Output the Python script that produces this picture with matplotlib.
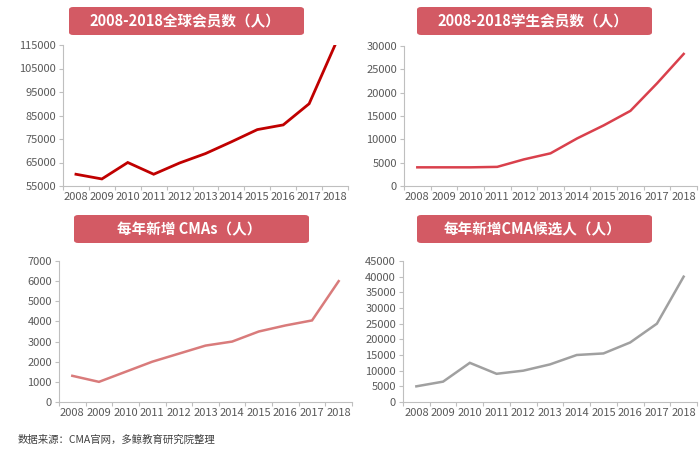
import matplotlib.pyplot as plt
from matplotlib.patches import FancyBboxPatch
from matplotlib.ticker import FixedLocator, NullFormatter
import numpy as np

plt.rcParams['font.family'] = ['Noto Sans CJK SC', 'DejaVu Sans']

years = [str(y) for y in range(2008, 2019)]

global_members = [60000, 58000, 65000, 60000, 64800, 68800, 73800, 79000, 81000, 90000, 115000]
student_members = [4000, 4000, 4000, 4100, 5700, 7000, 10200, 13000, 16100, 22000, 28300]
new_cmas = [1300, 1000, 1500, 2000, 2400, 2800, 3000, 3500, 3800, 4050, 6000]
new_candidates = [5000, 6500, 12500, 9000, 10000, 12000, 15000, 15500, 19000, 25000, 40000]

W, H = 700, 454
fig = plt.figure(figsize=(W / 100, H / 100), dpi=100)


def px_axes(x0, x1, y0, y1):
    return fig.add_axes([x0 / W, (H - y1) / H, (x1 - x0) / W, (y1 - y0) / H])


def title_box(x0, x1, y0, y1, text):
    box = FancyBboxPatch((x0 / W, (H - y1) / H), (x1 - x0) / W, (y1 - y0) / H,
                         boxstyle="round,pad=0,rounding_size=0.006",
                         transform=fig.transFigure, facecolor='#d35a64',
                         edgecolor='none')
    fig.patches.append(box)
    fig.text((x0 + x1) / 2 / W - 2 / W, (H - (y0 + y1) / 2) / H, text, color='white',
             fontsize=10.5, fontweight='bold', ha='center', va='center')


def panel(ax, values, color, lw, ymin, ymax, step):
    x = np.arange(len(years))
    ax.plot(x, values, color=color, lw=lw, solid_joinstyle='miter')
    ax.set_xlim(-0.5, len(years) - 0.5)
    ax.set_ylim(ymin, ymax)
    ax.set_yticks(np.arange(ymin, ymax + 1, step))
    ax.xaxis.set_major_locator(FixedLocator(np.arange(-0.5, len(years), 1)))
    ax.xaxis.set_major_formatter(NullFormatter())
    ax.xaxis.set_minor_locator(FixedLocator(x))
    ax.set_xticklabels(years, minor=True)
    ax.tick_params(axis='x', which='major', length=3, color='#bfbfbf', width=0.8)
    ax.tick_params(axis='x', which='minor', length=0, labelsize=8,
                   labelcolor='#595959', pad=4)
    ax.tick_params(axis='y', length=3, color='#bfbfbf', width=0.8,
                   labelsize=8, labelcolor='#595959', pad=2)
    for s in ['top', 'right']:
        ax.spines[s].set_visible(False)
    for s in ['left', 'bottom']:
        ax.spines[s].set_color('#bfbfbf')
        ax.spines[s].set_linewidth(0.8)
    ax.patch.set_alpha(0)


ax1 = px_axes(63, 348, 45, 186)
panel(ax1, global_members, '#c00000', 2.0, 55000, 115000, 10000)
title_box(69, 304, 7, 35, '2008-2018全球会员数（人）')

ax2 = px_axes(404, 697, 46, 186)
panel(ax2, student_members, '#d9404c', 1.8, 0, 30000, 5000)
title_box(417, 652, 7, 35, '2008-2018学生会员数（人）')

ax3 = px_axes(59, 352, 261, 402)
panel(ax3, new_cmas, '#d97b7b', 1.8, 0, 7000, 1000)
title_box(74, 309, 215, 243, '每年新增 CMAs（人）')

ax4 = px_axes(403, 697, 261, 402)
panel(ax4, new_candidates, '#a0a0a0', 1.8, 0, 45000, 5000)
title_box(417, 652, 215, 243, '每年新增CMA候选人（人）')

fig.text(18 / W, (H - 440) / H, '数据来源：CMA官网，多鲸教育研究院整理',
         fontsize=7.5, color='#404040', ha='left', va='center')

fig.savefig('out.png', dpi=100)
